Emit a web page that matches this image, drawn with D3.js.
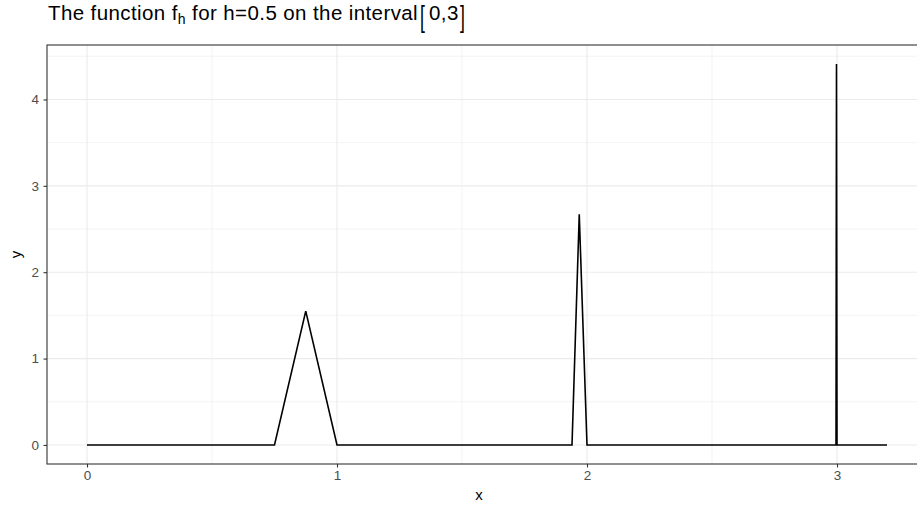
<!DOCTYPE html>
<html>
<head>
<meta charset="utf-8">
<script src="https://cdn.jsdelivr.net/npm/d3@7"></script>
<style>
  html, body { margin: 0; padding: 0; background: #fff; overflow: hidden; }
  svg { font-family: "Liberation Sans", Arial, sans-serif; display: block; }
</style>
</head>
<body>
<div id="chart"></div>
<script>
// points of the piecewise linear function f_h
const xVals = [0, 0.75, 0.875, 1.0, 1.94, 1.969, 2.0, 2.996, 2.998, 3.0, 3.2];
const yVals = [0, 0, 1.55, 0, 0, 2.67, 0, 0, 4.41, 0, 0];

const xTicks = [0, 1, 2, 3];
const yTicks = [0, 1, 2, 3, 4];
const xMinor = [0.5, 1.5, 2.5, 3.5];
const yMinor = [0.5, 1.5, 2.5, 3.5, 4.5];

const width = 917;
const height = 512;
const margin = {left: 47, right: -10, top: 45, bottom: 48};

const data = xVals.map((x, i) => ({x: x, y: yVals[i]}));

const svg = d3.select("#chart")
    .append("svg")
    .attr("width", width)
    .attr("height", height);

// ggplot style 5% expansion on both axes
const xExt = d3.extent(xVals), yExt = d3.extent(yVals);
const xPad = (xExt[1] - xExt[0]) * 0.05, yPad = (yExt[1] - yExt[0]) * 0.05;

const xScale = d3.scaleLinear()
    .domain([xExt[0] - xPad, xExt[1] + xPad])
    .range([margin.left, width - margin.right]);

const yScale = d3.scaleLinear()
    .domain([yExt[0] - yPad, yExt[1] + yPad])
    .range([height - margin.bottom, margin.top]);

const x0 = margin.left, x1 = width - margin.right;
const y0 = margin.top, y1 = height - margin.bottom;

svg.append("clipPath").attr("id", "panel")
    .append("rect")
    .attr("x", x0).attr("y", y0)
    .attr("width", x1 - x0).attr("height", y1 - y0);

const grid = svg.append("g").attr("clip-path", "url(#panel)");

// minor grid
grid.selectAll(".xminor").data(xMinor).enter().append("line")
    .attr("x1", d => xScale(d)).attr("x2", d => xScale(d))
    .attr("y1", y0).attr("y2", y1)
    .attr("stroke", "#ebebeb").attr("stroke-width", 0.6);
grid.selectAll(".yminor").data(yMinor).enter().append("line")
    .attr("y1", d => yScale(d)).attr("y2", d => yScale(d))
    .attr("x1", x0).attr("x2", x1)
    .attr("stroke", "#ebebeb").attr("stroke-width", 0.6);

// major grid
grid.selectAll(".xmajor").data(xTicks).enter().append("line")
    .attr("x1", d => xScale(d)).attr("x2", d => xScale(d))
    .attr("y1", y0).attr("y2", y1)
    .attr("stroke", "#ebebeb").attr("stroke-width", 1.1);
grid.selectAll(".ymajor").data(yTicks).enter().append("line")
    .attr("y1", d => yScale(d)).attr("y2", d => yScale(d))
    .attr("x1", x0).attr("x2", x1)
    .attr("stroke", "#ebebeb").attr("stroke-width", 1.1);

// the function
const line = d3.line()
    .x(d => xScale(d.x))
    .y(d => yScale(d.y));

grid.append("path")
    .datum(data)
    .attr("d", line)
    .attr("fill", "none")
    .attr("stroke", "#000")
    .attr("stroke-width", 1.6)
    .attr("stroke-linejoin", "miter");

// panel border
svg.append("rect")
    .attr("x", x0).attr("y", y0)
    .attr("width", x1 - x0).attr("height", y1 - y0)
    .attr("fill", "none")
    .attr("stroke", "#333333")
    .attr("stroke-width", 1.1);

// axes
const xAxis = svg.append("g")
    .attr("transform", `translate(0,${y1})`)
    .call(d3.axisBottom(xScale).tickValues(xTicks).tickSize(3.5).tickPadding(3).tickFormat(d3.format("d")));
const yAxis = svg.append("g")
    .attr("transform", `translate(${x0},0)`)
    .call(d3.axisLeft(yScale).tickValues(yTicks).tickSize(3.5).tickPadding(4.5).tickFormat(d3.format("d")));

[xAxis, yAxis].forEach(a => {
    a.attr("font-size", 13.5).attr("font-family", "'Liberation Sans', Arial, sans-serif");
    a.select(".domain").remove();
    a.selectAll(".tick line").attr("stroke", "#333333").attr("stroke-width", 1.1);
    a.selectAll(".tick text").attr("fill", "#4d4d4d");
});

// axis titles
svg.append("text")
    .attr("x", 479)
    .attr("y", 500)
    .attr("text-anchor", "middle")
    .attr("font-size", "15px")
    .text("x");

svg.append("text")
    .attr("transform", `translate(21,${(y0 + y1) / 2}) rotate(-90)`)
    .attr("text-anchor", "middle")
    .attr("font-size", "15px")
    .text("y");

// title with subscript and tall brackets
const title = svg.append("text")
    .attr("x", 48)
    .attr("y", 20)
    .attr("font-size", "20.5px")
    .attr("letter-spacing", "0.4px")
    .attr("fill", "#000");
title.append("tspan").text("The function f");
title.append("tspan").attr("font-size", "14px").attr("dy", 4).text("h");
title.append("tspan").attr("dy", -4).text(" for h=0.5 on the interval");

const tw = title.node().getComputedTextLength();
const bx = 48 + tw + 2;

svg.append("text")
    .attr("transform", `translate(${bx},26.5) scale(0.8,1.35)`)
    .attr("font-size", "22px")
    .text("[");
svg.append("text")
    .attr("x", bx + 9)
    .attr("y", 20)
    .attr("font-size", "20.5px")
    .attr("letter-spacing", "0.4px")
    .text("0,3");
svg.append("text")
    .attr("transform", `translate(${bx + 40},26.5) scale(0.8,1.35)`)
    .attr("font-size", "22px")
    .text("]");
</script>
</body>
</html>
